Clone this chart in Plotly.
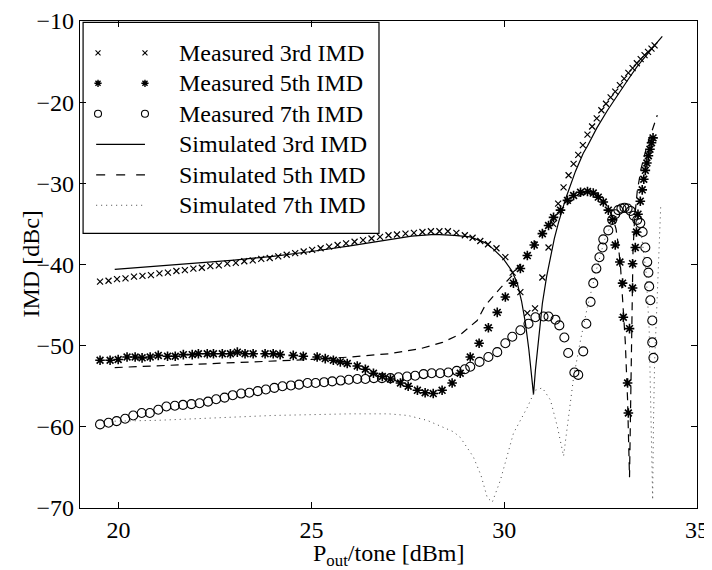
import plotly.graph_objects as go

# ---------------- data ----------------
# Measured 3rd IMD
x3m = [19.52,19.74,19.96,20.18,20.40,20.62,20.84,21.06,21.28,21.50,21.72,21.94,22.16,22.38,22.60,22.82,
       23.04,23.26,23.48,23.70,23.92,24.14,24.36,24.58,24.80,25.02,25.24,25.46,25.68,25.90,26.12,26.34,
       26.56,26.78,27.00,27.22,27.44,27.66,27.88,28.10,28.32,28.54,28.76,28.98,29.18,29.38,29.58,29.80,
       30.03,30.22,30.42,30.60,30.80,30.99,31.15,31.27,31.40,31.54,31.67,31.80,31.92,32.04,32.16,32.28,
       32.40,32.52,32.64,32.76,32.88,33.00,33.11,33.22,33.33,33.44,33.54,33.64,33.73,33.82,33.90]
y3m = [-42.1,-42.0,-41.8,-41.7,-41.5,-41.4,-41.3,-41.1,-41.0,-40.8,-40.7,-40.5,-40.4,-40.2,-40.1,-39.9,
       -39.8,-39.6,-39.5,-39.3,-39.2,-39.0,-38.8,-38.6,-38.4,-38.2,-38.0,-37.8,-37.6,-37.4,-37.2,-37.0,
       -36.8,-36.6,-36.4,-36.3,-36.2,-36.1,-36.0,-35.9,-35.9,-35.9,-36.1,-36.4,-36.7,-37.1,-37.5,-38.0,
       -39.1,-41.0,-43.4,-46.0,-45.4,-41.6,-37.9,-35.0,-32.5,-30.5,-29.0,-27.6,-26.5,-25.3,-24.0,-23.0,
       -22.0,-21.0,-20.2,-19.4,-18.7,-17.9,-17.1,-16.4,-15.8,-15.2,-14.7,-14.2,-13.8,-13.4,-13.0]

# Measured 5th IMD
x5m = [19.52,19.78,19.99,20.22,20.43,20.61,20.82,21.03,21.27,21.47,21.68,21.91,22.07,22.30,22.46,22.69,
       22.90,23.08,23.28,23.49,23.80,24.01,24.19,24.53,24.79,25.15,25.36,25.57,25.75,25.93,26.19,26.40,
       26.61,26.84,27.05,27.31,27.51,27.75,27.95,28.16,28.39,28.65,28.86,29.12,29.35,29.59,29.82,30.03,
       30.24,30.42,30.60,30.78,30.99,31.15,31.28,31.46,31.64,31.80,31.98,32.16,32.31,32.44,32.57,32.70,
       32.81,32.88,33.00,33.07,33.09,33.20,33.22,33.25,33.33,33.33,33.40,33.43,33.47,33.53,33.58,33.62,
       33.66,33.70,33.74,33.78,33.82,33.86]
y5m = [-51.8,-51.8,-51.7,-51.4,-51.4,-51.5,-51.4,-51.2,-51.3,-51.3,-51.1,-51.1,-51.0,-51.0,-51.0,-51.0,
       -51.0,-50.8,-51.0,-51.0,-51.0,-51.0,-51.1,-51.2,-51.3,-51.4,-51.6,-51.8,-52.0,-52.2,-52.5,-52.9,
       -53.4,-53.8,-54.1,-54.6,-55.0,-55.5,-55.8,-55.9,-55.5,-54.6,-53.4,-51.4,-49.7,-47.8,-45.9,-44.0,
       -42.3,-40.5,-38.9,-37.6,-36.2,-35.2,-34.2,-33.3,-32.1,-31.5,-31.1,-31.0,-31.2,-31.7,-32.3,-33.3,
       -34.5,-37.6,-39.7,-42.3,-46.5,-54.6,-58.3,-47.9,-42.9,-39.9,-37.9,-36.0,-33.8,-32.2,-30.8,-29.5,
       -28.4,-27.5,-26.6,-25.8,-25.0,-24.4]

# Measured 7th IMD
x7m = [19.52,19.74,19.95,20.17,20.38,20.60,20.81,21.03,21.24,21.46,21.67,21.89,22.10,22.32,22.53,22.75,
       22.96,23.18,23.39,23.61,23.82,24.04,24.25,24.47,24.68,24.90,25.11,25.33,25.54,25.76,25.97,26.19,
       26.40,26.62,26.83,27.05,27.26,27.48,27.69,27.91,28.12,28.34,28.55,28.77,28.98,29.12,29.36,29.59,
       29.82,30.03,30.21,30.42,30.63,30.81,31.02,31.15,31.33,31.43,31.56,31.66,31.82,31.92,32.05,32.13,
       32.24,32.31,32.39,32.47,32.55,32.57,32.70,32.80,32.88,32.96,33.04,33.12,33.20,33.28,33.36,33.45,
       33.53,33.59,33.66,33.71,33.74,33.76,33.79,33.84,33.84,33.87]
y7m = [-59.7,-59.5,-59.3,-59.0,-58.6,-58.3,-58.3,-57.9,-57.5,-57.4,-57.3,-57.2,-57.1,-56.9,-56.6,-56.4,
       -56.1,-55.9,-55.8,-55.6,-55.4,-55.2,-55.0,-54.9,-54.8,-54.6,-54.6,-54.5,-54.4,-54.3,-54.2,-54.1,
       -54.1,-54.0,-54.0,-54.0,-53.9,-53.8,-53.7,-53.5,-53.4,-53.4,-53.3,-53.1,-52.9,-52.6,-52.0,-51.4,
       -50.8,-49.7,-48.9,-48.1,-47.3,-46.5,-46.4,-46.4,-46.8,-47.5,-49.0,-50.9,-53.3,-53.6,-50.7,-47.3,
       -44.6,-42.3,-40.5,-39.1,-37.9,-36.9,-35.8,-34.5,-33.8,-33.3,-33.1,-33.0,-33.1,-33.4,-34.0,-34.5,
       -34.9,-36.0,-37.9,-39.7,-41.0,-42.7,-44.4,-46.9,-49.6,-51.5]

# Simulated 3rd IMD
x3s = [19.9,21.0,22.0,23.0,24.0,25.0,26.0,27.0,27.6,28.2,28.7,29.12,29.5,29.72,29.98,30.2,30.34,30.45,
       30.55,30.64,30.71,30.76,30.81,30.87,30.93,30.99,31.1,31.2,31.3,31.41,31.6,31.85,32.05,32.16,32.4,
       32.68,32.95,33.2,33.45,33.72,33.9,34.1]
y3s = [-40.6,-40.2,-39.85,-39.45,-39.0,-38.4,-37.7,-36.9,-36.5,-36.3,-36.4,-36.6,-37.3,-38.1,-39.3,-40.8,
       -42.3,-44.5,-47.2,-50.5,-53.5,-56.0,-53.0,-50.0,-47.3,-44.8,-41.5,-39.0,-36.8,-34.8,-31.8,-28.5,
       -26.3,-25.4,-23.2,-21.0,-19.0,-17.3,-15.6,-14.0,-13.0,-11.9]

# Simulated 5th IMD
x5s = [19.9,21.0,22.0,23.0,24.0,25.0,26.0,27.0,27.8,28.4,28.9,29.3,29.5,29.7,29.9,30.2,30.5,30.8,31.1,
       31.4,31.7,32.0,32.2,32.4,32.6,32.8,32.9,32.96,33.02,33.08,33.14,33.2,33.25,33.27,33.29,33.31,
       33.34,33.38,33.45,33.55,33.7,33.85,33.97]
y5s = [-52.7,-52.5,-52.3,-52.1,-51.9,-51.7,-51.4,-51.0,-50.4,-49.6,-48.5,-46.9,-45.1,-44.0,-42.9,-41.4,
       -39.3,-37.3,-35.4,-33.7,-32.3,-31.4,-31.1,-31.3,-32.2,-34.0,-35.6,-37.6,-40.5,-44.5,-49.5,-56.7,
       -66.2,-60.0,-52.0,-44.4,-38.5,-34.5,-31.0,-28.2,-25.4,-23.3,-21.6]

# Simulated 7th IMD
x7s = [19.9,21.0,22.0,23.0,24.0,25.0,26.0,27.0,27.5,28.0,28.4,28.68,28.86,29.2,29.4,29.56,29.69,29.9,
       30.24,30.6,30.8,30.99,31.2,31.38,31.54,31.66,31.8,31.98,32.16,32.4,32.6,32.8,33.0,33.2,33.4,
       33.55,33.68,33.76,33.85,33.87,33.9,33.96,34.02,34.06]
y7s = [-59.3,-59.2,-59.0,-58.8,-58.6,-58.5,-58.4,-58.4,-58.6,-59.2,-60.0,-60.6,-61.3,-63.7,-66.0,-68.7,
       -69.3,-66.6,-60.8,-57.6,-55.5,-55.2,-56.7,-60.0,-63.6,-58.8,-53.9,-49.3,-45.2,-40.5,-37.0,-34.8,
       -33.5,-33.0,-33.6,-36.0,-41.0,-48.0,-69.0,-60.0,-52.0,-45.0,-38.5,-32.7]

x_ticks = [20, 25, 30, 35]
y_ticks = [-70, -60, -50, -40, -30, -20, -10]
x_title = "P<sub>out</sub>/tone [dBm]"
y_title = "IMD [dBc]"
series_names = ["Measured 3rd IMD", "Measured 5th IMD", "Measured 7th IMD",
                "Simulated 3rd IMD", "Simulated 5th IMD", "Simulated 7th IMD"]

# ---------------- styles ----------------
FONT = "Liberation Serif, Times New Roman, serif"
FS = 24
BLACK = "black"
marker_styles = [
    dict(symbol="x-thin-open", size=6, color=BLACK, line=dict(color=BLACK, width=1.2)),
    dict(symbol="asterisk-open", size=8, color=BLACK, line=dict(color=BLACK, width=1.6)),
    dict(symbol="circle-open", size=9, color=BLACK, line=dict(color=BLACK, width=1.1)),
]
legend_marker_styles = [
    dict(symbol="x-thin-open", size=5, color=BLACK, line=dict(color=BLACK, width=1.1)),
    dict(symbol="asterisk-open", size=6, color=BLACK, line=dict(color=BLACK, width=1.4)),
    dict(symbol="circle-open", size=7, color=BLACK, line=dict(color=BLACK, width=1.1)),
]
line_styles = [
    dict(color=BLACK, width=1.2),
    dict(color=BLACK, width=1.2, dash="8px,6px"),
    dict(color="#444444", width=1, dash="1px,4px"),
]
legend_line_styles = [
    dict(color=BLACK, width=1.2),
    dict(color=BLACK, width=1.2, dash="9px,11px"),
    dict(color="#444444", width=1, dash="1px,4px"),
]

fig = go.Figure()

measured = [(x3m, y3m), (x5m, y5m), (x7m, y7m)]
simulated = [(x3s, y3s), (x5s, y5s), (x7s, y7s)]
for i, (xs, ys) in enumerate(measured):
    fig.add_trace(go.Scatter(x=xs, y=ys, mode="markers", name=series_names[i],
                             marker=marker_styles[i], showlegend=False))
for i, (xs, ys) in enumerate(simulated):
    fig.add_trace(go.Scatter(x=xs, y=ys, mode="lines", name=series_names[3 + i],
                             line=line_styles[i], showlegend=False))

axis_common = dict(showline=True, linecolor=BLACK, linewidth=1.3, mirror="ticks",
                   ticks="inside", ticklen=6, tickcolor=BLACK, tickwidth=1,
                   showgrid=False, zeroline=False, automargin=False,
                   tickfont=dict(family=FONT, size=FS, color=BLACK))

fig.update_xaxes(range=[19, 35], tickvals=x_ticks, **axis_common)
fig.update_yaxes(range=[-70, -10], tickvals=y_ticks, **axis_common)

# ---------------- legend (drawn in paper-fraction coordinates) ----------------
LEG_BOX = (0.005, 0.5641, 0.4846, 0.9973)        # x0, y0, x1, y1
LEG_ROWS = [0.9347, 0.8721, 0.8094, 0.7468, 0.6842, 0.6216]
LEG_KEY_X = (0.0292, 0.1053)
LEG_TEXT_X = 0.1572

fig.add_shape(type="rect", xref="paper", yref="paper",
              x0=LEG_BOX[0], y0=LEG_BOX[1], x1=LEG_BOX[2], y1=LEG_BOX[3],
              line=dict(color=BLACK, width=1.2), fillcolor="white", layer="below")

fig.update_layout(
    xaxis2=dict(domain=[0, 1], range=[0, 1], overlaying="x", anchor="y2", visible=False, fixedrange=True),
    yaxis2=dict(domain=[0, 1], range=[0, 1], overlaying="y", anchor="x2", visible=False, fixedrange=True),
)
for i in range(3):
    fig.add_trace(go.Scatter(x=list(LEG_KEY_X), y=[LEG_ROWS[i]] * 2, xaxis="x2", yaxis="y2",
                             mode="markers", marker=legend_marker_styles[i],
                             showlegend=False, hoverinfo="skip"))
for i in range(3):
    fig.add_shape(type="line", xref="paper", yref="paper",
                  x0=LEG_KEY_X[0] - 0.003, x1=LEG_KEY_X[1], y0=LEG_ROWS[3 + i], y1=LEG_ROWS[3 + i],
                  line=legend_line_styles[i])
for i, name in enumerate(series_names):
    fig.add_annotation(text=name, xref="paper", yref="paper", x=LEG_TEXT_X, y=LEG_ROWS[i],
                       xanchor="left", yanchor="middle", showarrow=False,
                       font=dict(family=FONT, size=FS, color=BLACK))

# ---------------- axis titles ----------------
fig.add_annotation(text=x_title, xref="paper", yref="paper", x=0.5, y=-0.063,
                   xanchor="center", yanchor="top", showarrow=False, borderpad=0,
                   font=dict(family=FONT, size=FS, color=BLACK))
fig.add_annotation(text=y_title, xref="paper", yref="paper", x=-0.081, y=0.5,
                   xanchor="center", yanchor="middle", textangle=-90, showarrow=False,
                   font=dict(family=FONT, size=FS, color=BLACK))

# page body adds an 8px margin, so the figure is 8px smaller and the margins shifted
fig.update_layout(
    width=704, height=562,
    margin=dict(l=72, r=15, t=13, b=62),
    paper_bgcolor="white", plot_bgcolor="white",
    font=dict(family=FONT, size=FS, color=BLACK),
    showlegend=False,
)

fig.write_html("out.html")
